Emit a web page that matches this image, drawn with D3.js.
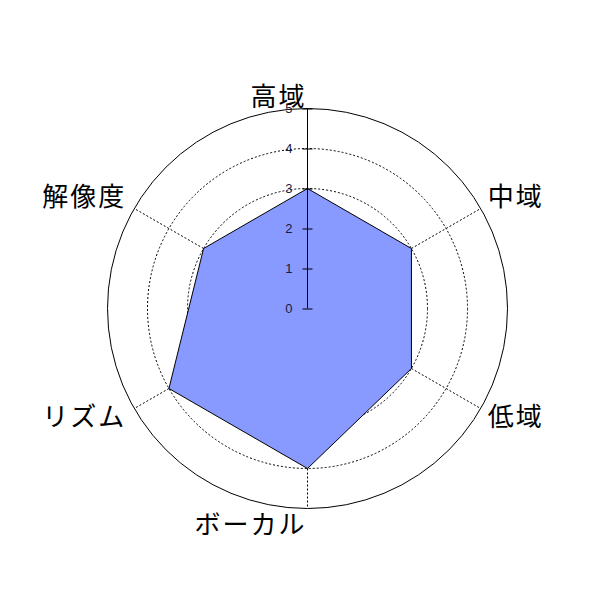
<!DOCTYPE html>
<html><head><meta charset="utf-8">
<script src="https://cdn.jsdelivr.net/npm/d3@7"></script>
<style>body{margin:0;background:#fff}</style>
</head><body>
<svg id="c" width="600" height="600"></svg>
<script>
const categories = ["高域","中域","低域","ボーカル","リズム","解像度"];
const values = [3,3,3,4,4,3];
const tickValues = [0,1,2,3,4,5];
const gridLevels = [1,2,3,4];

const svg = d3.select("#c");
const cx = 307.5, cy = 308.5, R = 200;
const r = d3.scaleLinear().domain([0,5]).range([0,R]);
const ang = d3.scalePoint().domain(categories).range([0, 2*Math.PI*(categories.length-1)/categories.length]);
const px = (c,v) => cx + r(v)*Math.sin(ang(c));
const py = (c,v) => cy - r(v)*Math.cos(ang(c));

const g = svg.append("g");
g.selectAll("circle.grid").data(gridLevels).join("circle")
  .attr("cx",cx).attr("cy",cy).attr("r",d=>r(d))
  .attr("fill","none").attr("stroke","#000").attr("stroke-width",1).attr("stroke-dasharray","2,2");
g.append("circle").attr("cx",cx).attr("cy",cy).attr("r",r(5))
  .attr("fill","none").attr("stroke","#000").attr("stroke-width",1);
g.selectAll("line.spoke").data(categories).join("line")
  .attr("x1",cx).attr("y1",cy).attr("x2",d=>px(d,5)).attr("y2",d=>py(d,5))
  .attr("stroke","#000").attr("stroke-width",1).attr("stroke-dasharray","2,2");
const line = d3.line().x(d=>px(d.c,d.v)).y(d=>py(d.c,d.v)).curve(d3.curveLinearClosed);
g.append("path").datum(categories.map((c,i)=>({c,v:values[i]})))
  .attr("d",line).attr("fill","#8899ff").attr("stroke","#000").attr("stroke-width",1);
const yAx = d3.scaleLinear().domain([0,5]).range([cy, cy-R]);
const axis = d3.axisLeft(yAx).tickValues(tickValues).tickFormat(d3.format("d")).tickSize(5).tickPadding(10);
const ag = g.append("g").attr("transform",`translate(${cx},0)`).call(axis);
ag.select(".domain").attr("d",`M0,${cy}V${cy-R}`).attr("stroke","#000");
ag.selectAll(".tick line").attr("x1",-5).attr("x2",5).attr("stroke","#000");
ag.selectAll(".tick text").style("font-family","'Liberation Sans', Arial, sans-serif").style("font-size","13px").attr("fill","#1a1a3a");

g.selectAll("text.lab").data(categories).join("text")
  .attr("font-family","'Noto Sans CJK JP', sans-serif").attr("font-size",26).attr("fill","#000")
  .attr("letter-spacing",2)
  .text(d=>d)
  .each(function(d){
    const s = Math.sin(ang(d)), c = Math.cos(ang(d));
    const x = px(d,5), y = py(d,5);
    const t = d3.select(this);
    if (Math.abs(s) < 0.01) {
      t.attr("text-anchor","end").attr("x", cx-1)
       .attr("y", c>0 ? y-3 : y+25);
    } else {
      t.attr("text-anchor", s>0 ? "start" : "end")
       .attr("x", s>0 ? x+7 : x-8)
       .attr("y", c>0 ? y-3 : y+17);
    }
  });
</script>
</body></html>
